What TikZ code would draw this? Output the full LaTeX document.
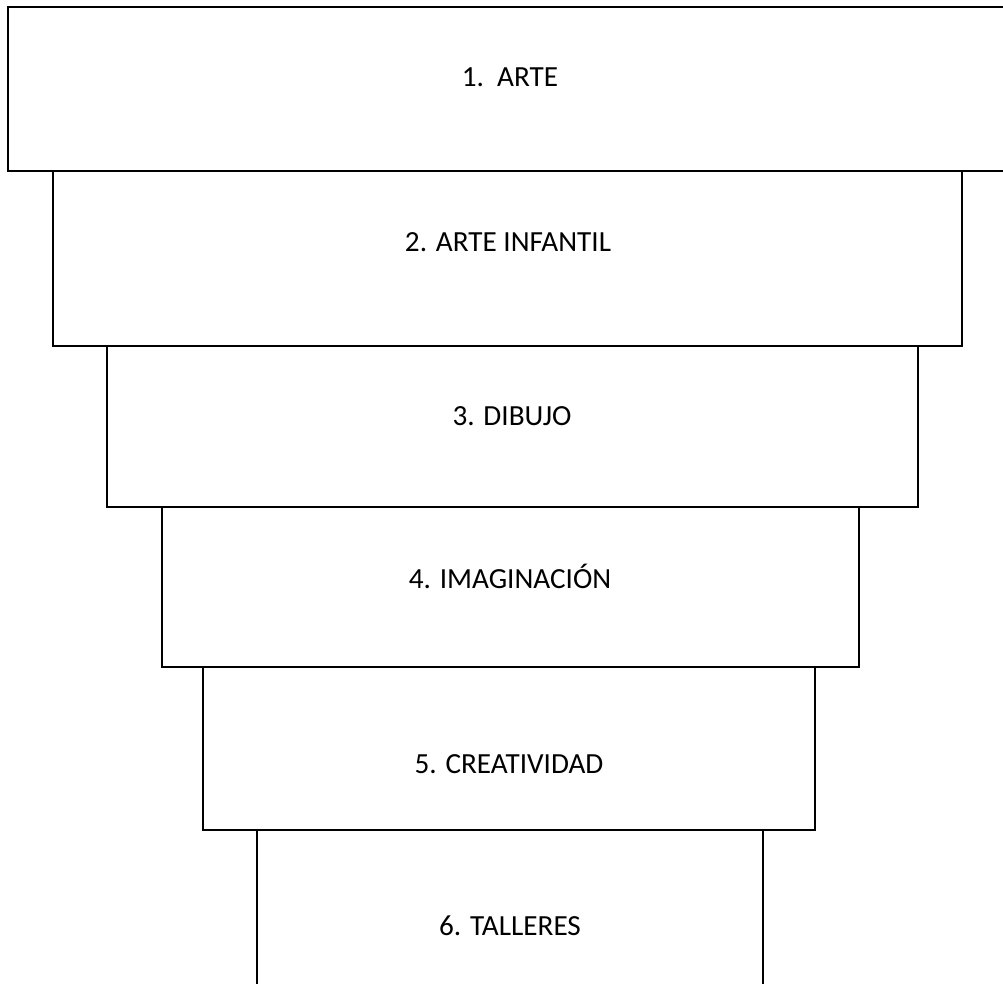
\documentclass[tikz,border=0pt]{standalone}
\usepackage{fontspec}
\setmainfont{Carlito}
\begin{document}
\begin{tikzpicture}[x=1pt,y=-1pt,
  box/.style={draw=black, line width=1.4pt, rectangle, inner sep=0pt},
  lbl/.style={anchor=base, inner sep=0pt, font=\fontsize{29.2}{35}\selectfont}]
\useasboundingbox (0,0) rectangle (1003,983);
\node[box, minimum width=1002pt, minimum height=164pt] (b1) at (509,89) {};
\node[box, minimum width=909pt, minimum height=175pt] (b2) at (507.5,258.5) {};
\node[box, minimum width=811pt, minimum height=161pt] (b3) at (512.5,426.5) {};
\node[box, minimum width=697pt, minimum height=160pt] (b4) at (510.5,587) {};
\node[box, minimum width=612pt, minimum height=163pt] (b5) at (509,748.5) {};
\node[box, minimum width=506pt, minimum height=180pt] (b6) at (510,920) {};
\node[lbl] (t1) at (510,86) {1.\ \ ARTE};
\node[lbl] (t2) at (508,251) {2. ARTE INFANTIL};
\node[lbl] (t3) at (512,425) {3. DIBUJO};
\node[lbl] (t4) at (510,588) {4. IMAGINACIÓN};
\node[lbl] (t5) at (509,773) {5. CREATIVIDAD};
\node[lbl] (t6) at (510,935) {6. TALLERES};
\end{tikzpicture}
\end{document}
